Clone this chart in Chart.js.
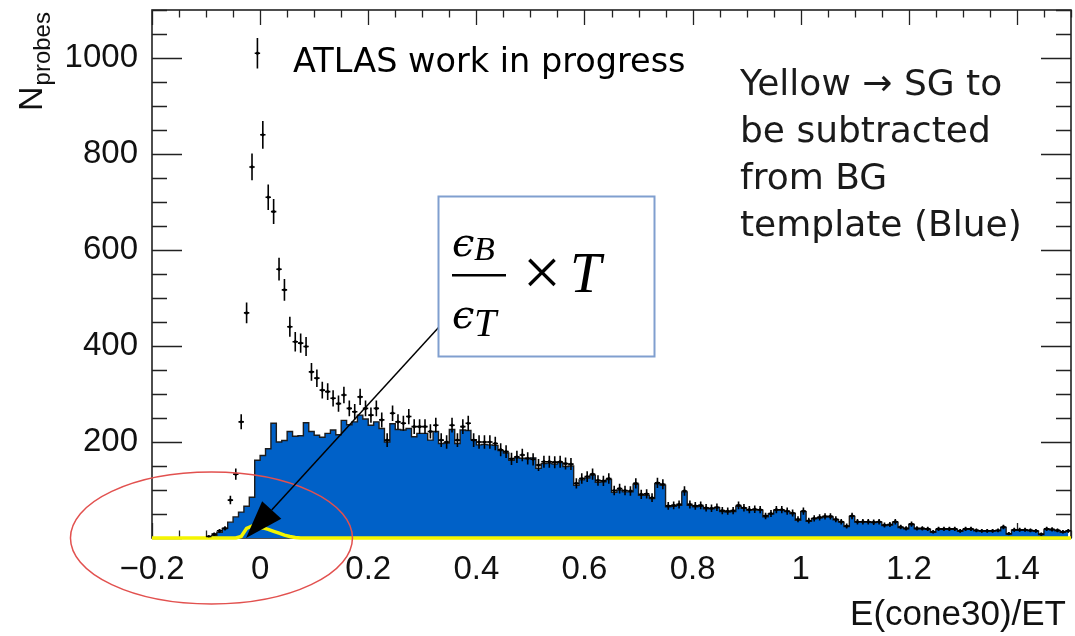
<!DOCTYPE html>
<html>
<head>
<meta charset="utf-8">
<script src="https://cdn.jsdelivr.net/npm/chart.js@4.4.1/dist/chart.umd.min.js"></script>
<style>
  html, body { margin: 0; background: #fff; }
</style>
</head>
<body>
<canvas id="isoChart" width="1075" height="636"></canvas>
<script>
// histogram binning: 170 bins of 0.01 from -0.2 to 1.5
const binLow = -0.2;
const binWidth = 0.01;

// BG template (blue), one value per bin
const bgTemplate = [
  0, 0, 0, 0, 0, 0, 0, 0, 0, 0,
  2, 5, 12, 20, 33, 44, 54, 66, 85, 162,
  172, 186, 239, 200, 203, 222, 212, 213, 240, 222,
  214, 210, 218, 225, 215, 245, 236, 242, 256, 248,
  235, 242, 228, 200, 238, 226, 225, 228, 211, 218,
  218, 204, 222, 197, 198, 226, 197, 225, 224, 205,
  194, 195, 194, 193, 182, 177, 162, 167, 166, 165,
  167, 145, 155, 156, 154, 157, 149, 150, 110, 121,
  125, 131, 116, 117, 122, 95, 100, 96, 96, 112,
  89, 89, 82, 113, 110, 65, 66, 68, 96, 68,
  65, 66, 61, 61, 63, 55, 54, 55, 66, 62,
  58, 58, 58, 44, 50, 58, 58, 55, 51, 37,
  55, 35, 40, 42, 44, 44, 38, 33, 24, 45,
  33, 33, 33, 32, 33, 26, 27, 33, 22, 19,
  28, 19, 19, 18, 12, 18, 18, 18, 18, 14,
  18, 18, 15, 14, 14, 14, 15, 22, 8, 16,
  16, 16, 15, 14, 7, 18, 17, 15, 12, 14
];

// data (black points with errors), one value per bin
const dataCounts = [
  0, 0, 0, 0, 0, 0, 0, 0, 0, 0,
  3, 8, 15, 20, 79, 133, 242, 469, 773, 1010,
  840, 710, 680, 560, 517, 440, 409, 406, 399, 346,
  333, 308, 305, 291, 280, 298, 270, 263, 294, 270,
  256, 270, 246, 204, 260, 242, 239, 253, 232, 232,
  232, 222, 235, 204, 200, 235, 204, 232, 239, 204,
  200, 200, 200, 197, 184, 180, 165, 169, 173, 166,
  164, 152, 159, 159, 158, 159, 155, 154, 114, 124,
  128, 133, 120, 119, 124, 99, 103, 99, 98, 114,
  91, 92, 84, 115, 112, 67, 68, 70, 98, 70,
  67, 68, 63, 62, 64, 57, 56, 57, 68, 63,
  59, 60, 59, 46, 51, 59, 59, 56, 52, 39,
  56, 36, 41, 43, 45, 45, 39, 34, 25, 46,
  34, 34, 34, 33, 34, 27, 28, 34, 23, 20,
  29, 20, 20, 19, 13, 19, 19, 19, 19, 15,
  19, 19, 16, 15, 15, 15, 16, 23, 9, 17,
  17, 17, 16, 15, 8, 19, 18, 16, 13, 15
];

// SG to be subtracted (yellow)
const sgX = [-0.2, -0.045, -0.035, -0.025, -0.015, -0.005, 0.005, 0.015, 0.025, 0.035, 0.045, 0.055, 0.065, 0.075, 1.5];
const sgY = [0, 0, 3, 20, 25, 22, 21, 18, 14, 10, 6, 3, 1, 0, 0];

const xRange = [-0.2, 1.5];
const yRange = [0, 1100];

const centers = bgTemplate.map((_, i) => binLow + (i + 0.5) * binWidth);
const tickFont = { family: 'Liberation Sans', size: 33 };

const fmtX = v => {
  if (Math.abs(v / 0.2 - Math.round(v / 0.2)) > 1e-6) return '';
  const r = Math.round(v * 10) / 10;
  return r < 0 ? '\u2212' + Math.abs(r) : String(r);
};

// keep the plot frame where the reference has it
const fixBox = (s, key, size) => {
  s[key] = size;
  s.paddingTop = 0; s.paddingBottom = 0; s.paddingLeft = 0; s.paddingRight = 0;
};

// ROOT-like frame with inner ticks on all four sides
const framePlugin = {
  id: 'frame',
  beforeDatasetsDraw(chart) {
    const { ctx, chartArea: a, scales: { x, y } } = chart;
    ctx.save();
    ctx.strokeStyle = '#222';
    ctx.lineWidth = 1.3;
    ctx.beginPath();
    for (let v = 0; v <= yRange[1]; v += 50) {
      const len = v % 200 === 0 ? 30 : 15;
      const py = Math.round(y.getPixelForValue(v)) + 0.5;
      ctx.moveTo(a.left, py); ctx.lineTo(a.left + len, py);
      ctx.moveTo(a.right, py); ctx.lineTo(a.right - len, py);
    }
    for (let i = -4; i <= 30; i++) {
      const len = i % 4 === 0 ? 15 : 7.5;
      const px = Math.round(x.getPixelForValue(i * 0.05)) + 0.5;
      ctx.moveTo(px, a.top); ctx.lineTo(px, a.top + len);
      ctx.moveTo(px, a.bottom); ctx.lineTo(px, a.bottom - len);
    }
    ctx.stroke();
    ctx.lineWidth = 1.6;
    ctx.strokeRect(a.left, a.top, a.right - a.left, a.bottom - a.top);
    ctx.restore();
  }
};

// error bars for the data points
const errorPlugin = {
  id: 'errors',
  afterDatasetsDraw(chart) {
    const { ctx, scales: { x, y } } = chart;
    ctx.save();
    ctx.strokeStyle = '#000';
    ctx.lineWidth = 1.6;
    ctx.beginPath();
    dataCounts.forEach((n, i) => {
      if (n <= 0) return;
      const err = Math.sqrt(n);
      const px = x.getPixelForValue(centers[i]);
      const py = y.getPixelForValue(n);
      ctx.moveTo(px, y.getPixelForValue(n - err));
      ctx.lineTo(px, y.getPixelForValue(n + err));
      ctx.moveTo(x.getPixelForValue(centers[i] - binWidth / 2), py);
      ctx.lineTo(x.getPixelForValue(centers[i] + binWidth / 2), py);
    });
    ctx.stroke();
    ctx.restore();
  }
};

// labels, titles and the slide annotations
const notesPlugin = {
  id: 'notes',
  afterDraw(chart) {
    const { ctx, scales: { x, y } } = chart;
    ctx.save();
    ctx.fillStyle = '#111';

    // axis titles
    ctx.font = '35px "Liberation Sans"';
    ctx.textAlign = 'right';
    ctx.textBaseline = 'alphabetic';
    ctx.fillText('E(cone30)/ET', 1066, 625);

    ctx.save();
    ctx.translate(42, 111);
    ctx.rotate(-Math.PI / 2);
    ctx.textAlign = 'left';
    ctx.font = '34px "Liberation Sans"';
    ctx.fillText('N', 0, 0);
    const nw = ctx.measureText('N').width;
    ctx.font = '24px "Liberation Sans"';
    ctx.fillText('probes', nw + 1, 8);
    ctx.restore();

    // ATLAS label
    ctx.textAlign = 'left';
    ctx.font = '33.5px "DejaVu Sans"';
    ctx.fillStyle = '#000';
    ctx.fillText('ATLAS work in progress', 293, 72);

    // right-hand note
    ctx.font = '36px "DejaVu Sans"';
    ctx.fillStyle = '#1a1a1a';
    ['Yellow \u2192 SG to', 'be subtracted', 'from BG', 'template (Blue)']
      .forEach((line, i) => ctx.fillText(line, 740, 95 + i * 47));

    // red ellipse round the SG region
    ctx.strokeStyle = '#e2514f';
    ctx.lineWidth = 1.5;
    ctx.beginPath();
    ctx.ellipse(x.getPixelForValue(-0.09), y.getPixelForValue(0), 141, 66, 0, 0, 2 * Math.PI);
    ctx.stroke();

    // arrow from the box to the SG peak
    const tail = { x: 439, y: 327 };
    const tip = { x: x.getPixelForValue(-0.026), y: y.getPixelForValue(0) };
    const dx = tip.x - tail.x, dy = tip.y - tail.y;
    const len = Math.hypot(dx, dy);
    const ux = dx / len, uy = dy / len;
    const head = 38, half = 13;
    const bx = tip.x - ux * head, by = tip.y - uy * head;
    ctx.strokeStyle = '#000';
    ctx.lineWidth = 1.5;
    ctx.beginPath();
    ctx.moveTo(tail.x, tail.y);
    ctx.lineTo(bx, by);
    ctx.stroke();
    ctx.fillStyle = '#000';
    ctx.beginPath();
    ctx.moveTo(tip.x, tip.y);
    ctx.lineTo(bx - uy * half, by + ux * half);
    ctx.lineTo(bx + uy * half, by - ux * half);
    ctx.closePath();
    ctx.fill();

    // formula box
    ctx.fillStyle = '#fff';
    ctx.fillRect(438, 196, 217, 161);
    ctx.strokeStyle = '#809fcf';
    ctx.lineWidth = 2;
    ctx.strokeRect(438.5, 196.5, 216, 160);

    ctx.fillStyle = '#000';
    ctx.font = 'italic 40px "DejaVu Serif"';
    ctx.fillText('\u03f5', 452, 256);
    ctx.fillText('\u03f5', 452, 328);
    ctx.font = 'italic 34px "Liberation Serif"';
    ctx.fillText('B', 474, 260);
    ctx.font = 'italic 40px "Liberation Serif"';
    ctx.fillText('T', 474, 336);
    ctx.fillRect(452, 274, 54, 2.5);
    ctx.font = '68px "Liberation Serif"';
    ctx.textAlign = 'center';
    ctx.textBaseline = 'middle';
    ctx.fillText('\u00d7', 542, 277);
    ctx.textAlign = 'left';
    ctx.textBaseline = 'alphabetic';
    ctx.font = 'italic 56px "Liberation Serif"';
    ctx.fillText('T', 570, 292);

    ctx.restore();
  }
};

new Chart(document.getElementById('isoChart'), {
  type: 'line',
  data: {
    datasets: [
      {
        label: 'SG',
        data: sgX.map((v, i) => ({ x: v, y: sgY[i] })),
        borderColor: '#f5f500',
        borderWidth: 3.5,
        pointRadius: 0,
        fill: false,
        clip: 6
      },
      {
        label: 'Data',
        data: centers.map((v, i) => ({ x: v, y: dataCounts[i] })).filter(p => p.y > 0),
        showLine: false,
        pointRadius: 1.6,
        pointBackgroundColor: '#000',
        pointBorderWidth: 0
      },
      {
        label: 'BG template',
        data: centers.map((v, i) => ({ x: v, y: bgTemplate[i] })),
        stepped: 'middle',
        fill: 'origin',
        backgroundColor: '#0061c8',
        borderColor: '#1c1c1c',
        borderWidth: 1.4,
        pointRadius: 0
      }
    ]
  },
  options: {
    responsive: false,
    devicePixelRatio: 1,
    animation: false,
    layout: { padding: { top: 10, right: 1, left: 0, bottom: 0 } },
    plugins: { legend: { display: false }, tooltip: { enabled: false } },
    scales: {
      x: {
        type: 'linear',
        min: xRange[0],
        max: xRange[1],
        grid: { display: false, drawTicks: false },
        border: { display: false },
        afterFit: s => fixBox(s, 'height', 98),
        ticks: {
          stepSize: 0.2,
          includeBounds: false,
          autoSkip: false,
          maxRotation: 0,
          padding: 12,
          color: '#111',
          font: tickFont,
          callback: v => fmtX(v)
        }
      },
      y: {
        min: yRange[0],
        max: yRange[1],
        grid: { display: false, drawTicks: false },
        border: { display: false },
        afterFit: s => fixBox(s, 'width', 152),
        ticks: {
          stepSize: 200,
          includeBounds: false,
          padding: 14,
          color: '#111',
          font: tickFont,
          callback: v => (v === 0 || v > 1000) ? '' : v
        }
      }
    }
  },
  plugins: [framePlugin, errorPlugin, notesPlugin]
});
</script>
</body>
</html>
